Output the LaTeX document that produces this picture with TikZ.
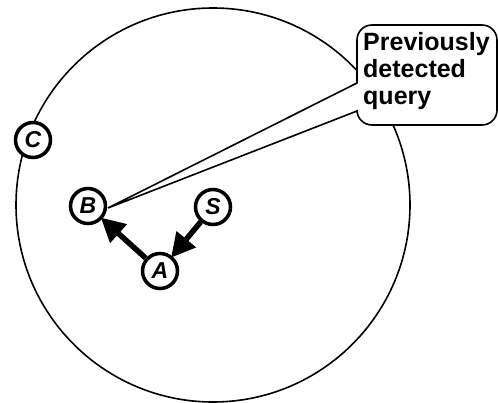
\documentclass[tikz,border=0pt]{standalone}
\usepackage{fontspec}
\setmainfont{Liberation Sans}
\usetikzlibrary{arrows.meta}
\tikzset{
  pt/.style={circle, draw, line width=3.5pt, minimum size=35pt, inner sep=0pt, font=\fontsize{23}{23}\selectfont\bfseries\itshape},
  bigarrow/.style={line width=5.5pt, -{Triangle[length=24pt,width=24pt]}, shorten >=-2pt},
  callout/.style={line width=1.6pt, fill=white},
}
\begin{document}
\begin{tikzpicture}[x=1pt,y=-1pt]
\useasboundingbox (0,0) rectangle (498,402);
\node[circle, draw, line width=1.6pt, minimum size=394pt, inner sep=0pt] (big) at (213,205) {};
\node[pt, fill=white] (C) at (33,140) {C};
\node[pt] (B) at (88,206) {B};
\node[pt] (S) at (213,207) {S};
\node[pt] (A) at (160,271) {A};
\draw[bigarrow] (A) -- (B);
\draw[bigarrow] (S) -- (A);
\coordinate (tip) at (108,208);
\draw[callout] (tip) -- (357,83) [rounded corners=15pt] -- (357,25) -- (497,25) -- (497,125) -- (357,125) [sharp corners] -- (357,111) -- cycle;
\node[inner sep=0pt, align=left, anchor=north west, font=\fontsize{25}{27}\selectfont\bfseries] (Q) at (363,32) {Previously\\detected\\query};
\end{tikzpicture}
\end{document}
